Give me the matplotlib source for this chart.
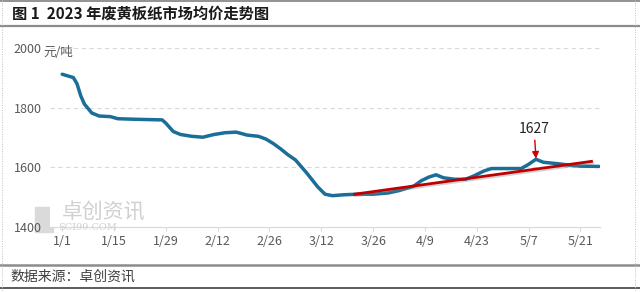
import matplotlib
matplotlib.use("Agg")
import matplotlib.pyplot as plt
import matplotlib.patheffects as pe
from matplotlib.lines import Line2D
import pandas as pd

plt.rcParams['font.family'] = ['Noto Sans CJK SC', 'DejaVu Sans']

# ---- data ----
dates = ["2023-01-01", "2023-01-04", "2023-01-05", "2023-01-06", "2023-01-07", "2023-01-09",
         "2023-01-11", "2023-01-14", "2023-01-16", "2023-01-21", "2023-01-28", "2023-01-29",
         "2023-01-31", "2023-02-02", "2023-02-05", "2023-02-08", "2023-02-11", "2023-02-14",
         "2023-02-17", "2023-02-20", "2023-02-23", "2023-02-25", "2023-02-27", "2023-03-01",
         "2023-03-03", "2023-03-05", "2023-03-08", "2023-03-11", "2023-03-13", "2023-03-15",
         "2023-03-18", "2023-03-22", "2023-03-26", "2023-03-30", "2023-04-02", "2023-04-06",
         "2023-04-08", "2023-04-10", "2023-04-12", "2023-04-14", "2023-04-17", "2023-04-20",
         "2023-04-22", "2023-04-25", "2023-04-27", "2023-05-05", "2023-05-07", "2023-05-09",
         "2023-05-11", "2023-05-15", "2023-05-19", "2023-05-21", "2023-05-26"]
prices = [1912, 1901, 1880, 1840, 1812, 1782,
          1772, 1770, 1763, 1761, 1759, 1748,
          1720, 1710, 1704, 1701, 1710, 1716,
          1718, 1708, 1704, 1695, 1680, 1662,
          1642, 1625, 1582, 1535, 1510, 1505,
          1508, 1510, 1510, 1514, 1522, 1537,
          1555, 1567, 1575, 1565, 1560, 1560,
          1570, 1588, 1596, 1596, 1610, 1627,
          1617, 1612, 1606, 1604, 1603]
trend_dates = ["2023-03-21", "2023-05-24"]
trend_values = [1510, 1620]
peak_date = "2023-05-09"
peak_value = 1627
tick_dates = ["2023-01-01", "2023-01-15", "2023-01-29", "2023-02-12", "2023-02-26", "2023-03-12",
              "2023-03-26", "2023-04-09", "2023-04-23", "2023-05-07", "2023-05-21"]
tick_labels = ["1/1", "1/15", "1/29", "2/12", "2/26", "3/12", "3/26", "4/9", "4/23", "5/7", "5/21"]
y_ticks = [1400, 1600, 1800, 2000]

start = pd.Timestamp("2023-01-01")
def day(d):
    return (pd.to_datetime(d) - start).days

x = [day(d) for d in dates]
tx = [day(d) for d in trend_dates]
xt = [day(d) for d in tick_dates]

W, H = 640, 292
fig = plt.figure(figsize=(W / 100, H / 100), dpi=100)
ax = fig.add_axes([50 / W, 1 - 227 / H, 550 / W, 179 / H])

ax.plot(x, prices, color="#1B6E98", lw=2.5, solid_joinstyle="round", solid_capstyle="round", zorder=3)
ax.plot(tx, trend_values, color="#C00000", lw=2.0, zorder=4,
        path_effects=[pe.SimpleLineShadow(offset=(0.8, -1.2), shadow_color="gray", alpha=0.35), pe.Normal()])

ax.annotate(str(peak_value), xy=(day(peak_date), peak_value + 2), xytext=(day(peak_date) - 0.5, 1705),
            ha="center", va="bottom", fontsize=10, color="#222222",
            arrowprops=dict(arrowstyle="-|>", color="#D00000", lw=1.0, mutation_scale=10, shrinkA=1, shrinkB=0))

ax.set_xlim(-3.3, 145.3)
ax.set_ylim(1400, 2000)
ax.set_yticks(y_ticks)
ax.set_yticklabels([str(v) for v in y_ticks])
ax.set_xticks(xt)
ax.set_xticklabels(tick_labels)
ax.yaxis.grid(True, linestyle=(0, (4, 3)), color="#D9D9D9", lw=0.8)
ax.set_axisbelow(True)
for s in ["top", "right", "left"]:
    ax.spines[s].set_visible(False)
ax.spines["bottom"].set_color("#D9D9D9")
ax.tick_params(axis="y", length=0, labelsize=9, labelcolor="#595959", pad=6)
ax.tick_params(axis="x", length=3, color="#D9D9D9", labelsize=9, labelcolor="#595959", pad=3)

fig.text(43 / W, 1 - 53 / H, "元/吨", fontsize=9, color="#595959", va="center", ha="left")

# watermark
fig.text(62 / W, 1 - 213 / H, "卓创资讯", fontsize=15, color="#D0D0D0", va="center", ha="left", zorder=0)
fig.text(58 / W, 1 - 228 / H, "SCI99.COM", fontsize=7, color="#D0D0D0", va="center", ha="left", zorder=0,
         family="DejaVu Serif")
fig.add_artist(plt.Rectangle((35 / W, 1 - 232 / H), 18 / W, 25 / H, transform=fig.transFigure,
                             color="#DADADA", zorder=0))

# title and footer
fig.text(12 / W, 1 - 14 / H, "图 1  2023 年废黄板纸市场均价走势图", fontsize=11, fontweight="bold",
         color="#1a1a1a", va="center", ha="left")
fig.text(10 / W, 1 - 277 / H, "数据来源：卓创资讯", fontsize=10, color="#404040", va="center", ha="left")

def hline(y, color, lw, x0=0, x1=W):
    fig.add_artist(Line2D([x0 / W, x1 / W], [1 - y / H, 1 - y / H], color=color, lw=lw,
                          transform=fig.transFigure))

def vline(xp, y0, y1):
    fig.add_artist(Line2D([xp / W, xp / W], [1 - y0 / H, 1 - y1 / H], color="#BFBFBF", lw=0.7,
                          linestyle=(0, (1, 1.5)), transform=fig.transFigure))

hline(0.8, "#7F7F7F", 1.2)
hline(25.5, "#8C8C8C", 1.6)
hline(265, "#8C8C8C", 1.8)
hline(287.5, "#404040", 1.2)
vline(2, 0, 292)
vline(635, 0, 292)

fig.savefig("out.png", dpi=100)
